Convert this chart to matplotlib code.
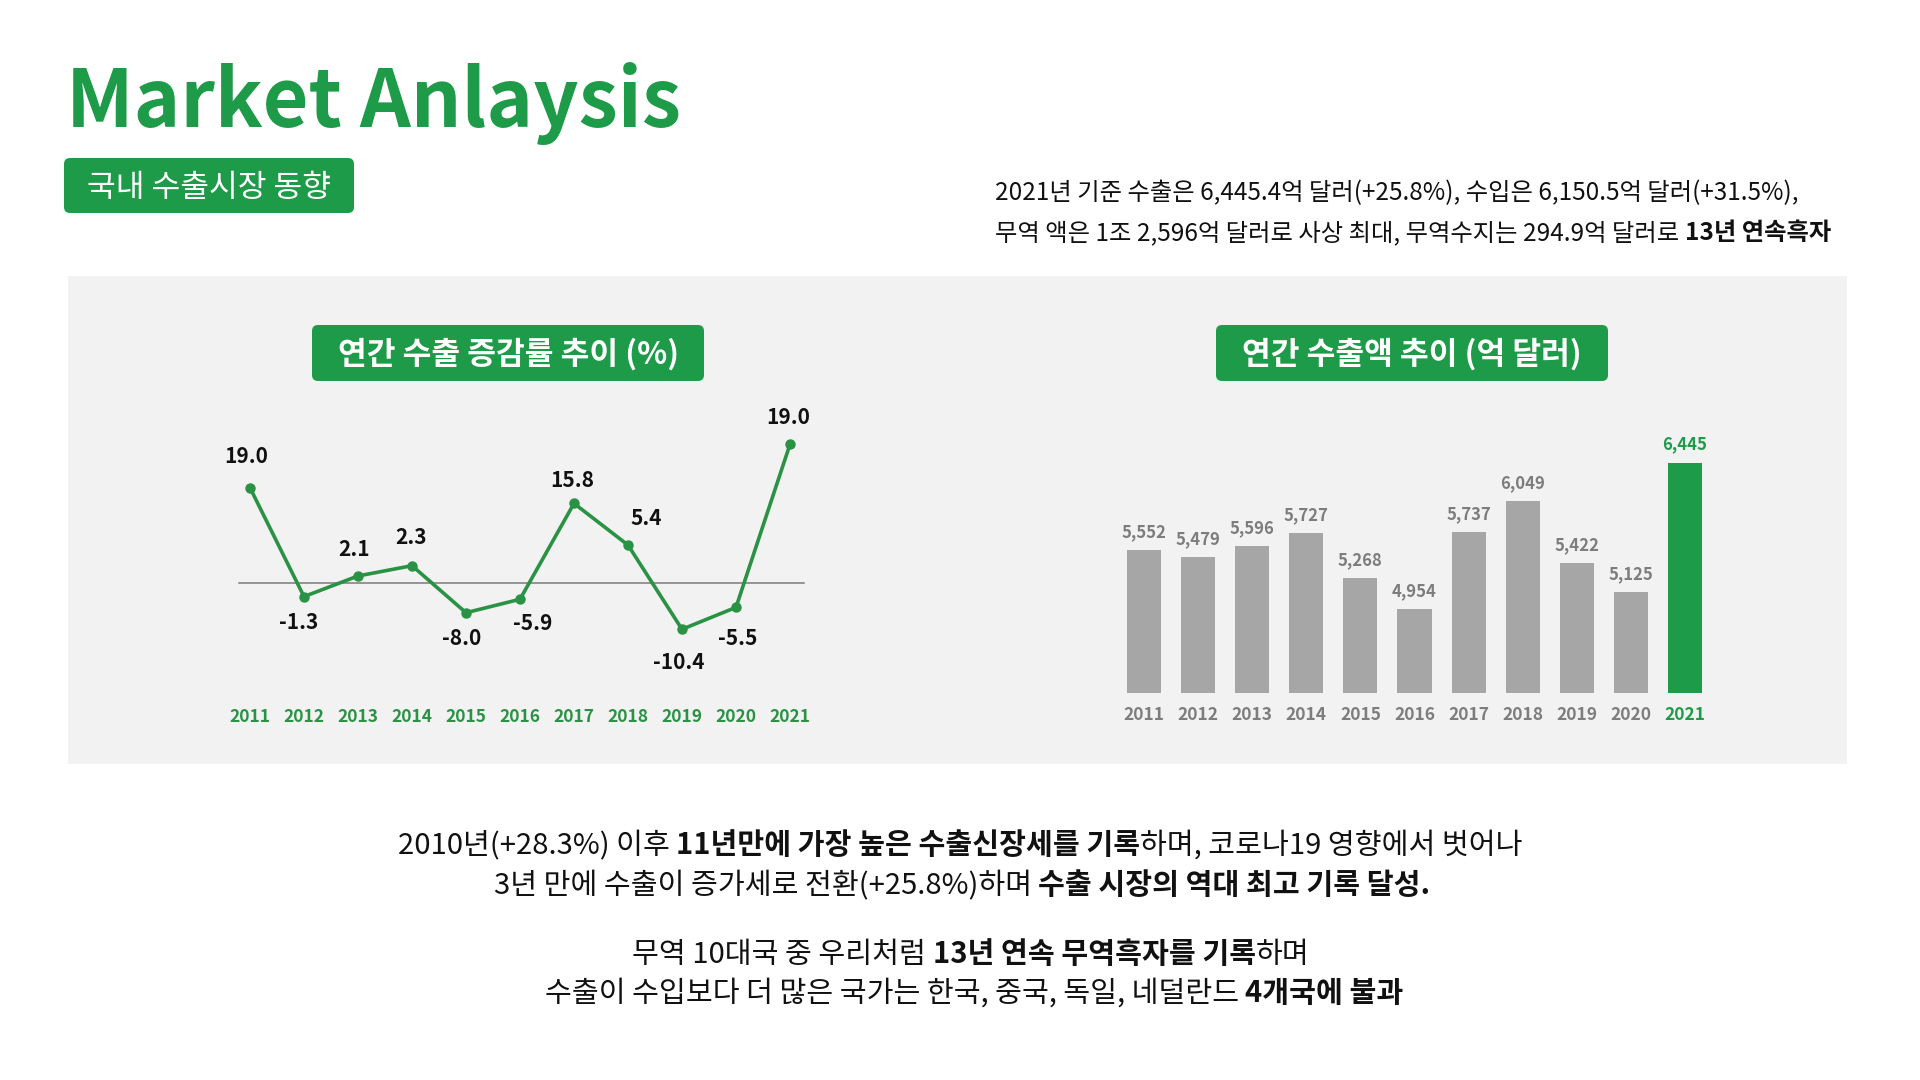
import matplotlib
matplotlib.use('Agg')
import matplotlib.pyplot as plt
from matplotlib.patches import FancyBboxPatch, Rectangle

plt.rcParams['font.family'] = ['Noto Sans CJK KR', 'DejaVu Sans']

# ---------------- data ----------------
years = ['2011', '2012', '2013', '2014', '2015', '2016', '2017', '2018', '2019', '2020', '2021']
# printed labels of the growth-rate line chart (%)
growth_labels = ['19.0', '-1.3', '2.1', '2.3', '-8.0', '-5.9', '15.8', '5.4', '-10.4', '-5.5', '19.0']
# heights of the points as drawn in the picture (%)
growth_drawn = [21.2, -3.1, 1.5, 3.8, -6.7, -3.7, 17.7, 8.4, -10.4, -5.5, 30.9]
# annual exports (100 million USD)
export_values = [5552, 5479, 5596, 5727, 5268, 4954, 5737, 6049, 5422, 5125, 6445]

title = 'Market Anlaysis'
subtitle = '국내 수출시장 동향'
left_title = '연간 수출 증감률 추이 (%)'
right_title = '연간 수출액 추이 (억 달러)'
summary_lines = [
    [('2021년 기준 수출은 6,445.4억 달러(+25.8%), 수입은 6,150.5억 달러(+31.5%),', False)],
    [('무역 액은 1조 2,596억 달러로 사상 최대, 무역수지는 294.9억 달러로 ', False), ('13년 연속흑자', True)],
]
bottom_lines = [
    [('2010년(+28.3%) 이후 ', False), ('11년만에 가장 높은 수출신장세를 기록', True), ('하며, 코로나19 영향에서 벗어나', False)],
    [('3년 만에 수출이 증가세로 전환(+25.8%)하며 ', False), ('수출 시장의 역대 최고 기록 달성.', True)],
    [('무역 10대국 중 우리처럼 ', False), ('13년 연속 무역흑자를 기록', True), ('하며', False)],
    [('수출이 수입보다 더 많은 국가는 한국, 중국, 독일, 네덜란드 ', False), ('4개국에 불과', True)],
]

# ---------------- style ----------------
W, H = 1920, 1080
GREEN = '#1e9b48'
LINE_GREEN = '#2a9244'
BAR_GRAY = '#a6a6a6'
TXT_GRAY = '#7d7d7d'
PANEL = '#f2f2f2'
BLACK = '#111111'

fig = plt.figure(figsize=(W / 100, H / 100), dpi=100)
fig.patch.set_facecolor('white')

# background axis in pixel coordinates
bg = fig.add_axes([0, 0, 1, 1], zorder=0)
bg.set_xlim(0, W)
bg.set_ylim(H, 0)
bg.axis('off')

renderer = fig.canvas.get_renderer()


def measure(s, bold, size):
    kw = dict(fontsize=size, fontweight='bold' if bold else 'normal')
    t1 = bg.text(0, 0, '|' + s + '|', **kw)
    t2 = bg.text(0, 0, '||', **kw)
    w = t1.get_window_extent(renderer).width - t2.get_window_extent(renderer).width
    t1.remove()
    t2.remove()
    return w


def rich_line(runs, x, baseline, size, align='center', color=BLACK):
    widths = [measure(s, b, size) for s, b in runs]
    total = sum(widths)
    x0 = x - total / 2 if align == 'center' else x
    for (s, b), w in zip(runs, widths):
        bg.text(x0, baseline, s, fontsize=size, fontweight='bold' if b else 'normal',
                color=color, ha='left', va='baseline')
        x0 += w


def green_box(x0, y0, x1, y1, r=6):
    bg.add_patch(FancyBboxPatch((x0 + r, y0 + r), (x1 - x0) - 2 * r, (y1 - y0) - 2 * r,
                                boxstyle=f'round,pad={r},rounding_size={r}',
                                facecolor=GREEN, edgecolor='none', zorder=2))


# title
bg.text(66, 127, title, fontsize=57, fontweight='bold', color=GREEN, ha='left', va='baseline')

# subtitle box
green_box(64, 158, 354, 213)
bg.text(209, 197, subtitle, fontsize=22.5, color='white', ha='center', va='baseline', zorder=3)

# summary at top right
rich_line(summary_lines[0], 995, 200, 17.5, align='left')
rich_line(summary_lines[1], 995, 240, 17.5, align='left')

# gray panel
bg.add_patch(Rectangle((68, 276), 1847 - 68, 764 - 276, facecolor=PANEL, edgecolor='none', zorder=1))

# chart title boxes
green_box(312, 325, 704, 381)
bg.text(508, 364, left_title, fontsize=22.5, fontweight='bold', color='white', ha='center', va='baseline', zorder=3)
green_box(1216, 325, 1608, 381)
bg.text(1412, 364, right_title, fontsize=22.5, fontweight='bold', color='white', ha='center', va='baseline', zorder=3)

# bottom text
for runs, base, cx in zip(bottom_lines, [854, 894, 963, 1002], [960, 962, 971, 974]):
    rich_line(runs, cx, base, 21)

# ---------------- line chart ----------------
PX = 100 / 72  # pixels per point
lx0, lx1, ly0, ly1 = 220, 820, 400, 700
axl = fig.add_axes([lx0 / W, 1 - ly1 / H, (lx1 - lx0) / W, (ly1 - ly0) / H], zorder=5)
axl.patch.set_alpha(0)
axl.axis('off')
step_l = 54.0
axl.set_xlim(-(250 - lx0) / step_l, -(250 - lx0) / step_l + (lx1 - lx0) / step_l)
ppu = 4.48
axl.set_ylim(-(ly1 - 582.7) / ppu, (582.7 - ly0) / ppu)
xs = list(range(len(years)))
axl.plot([-0.2, 10.25], [0, 0], color='#7a7a7a', lw=1.1, zorder=1)
axl.plot(xs, growth_drawn, color=LINE_GREEN, lw=2.6, marker='o', markersize=6.5,
         markerfacecolor=LINE_GREEN, markeredgecolor=LINE_GREEN, zorder=3)
lab_dx = [-4, -5, -4, -1, -4, 13, -2, 18, -3, 2, -2]
lab_dy = [-31, 26, -26, -28, 26, 24, -23, -27, 33, 31, -27]
for i, (lab, v) in enumerate(zip(growth_labels, growth_drawn)):
    axl.annotate(lab, xy=(i, v), xytext=(lab_dx[i] / PX, -lab_dy[i] / PX), textcoords='offset points',
                 ha='center', va='center', fontsize=15, fontweight='bold', color=BLACK)
    axl.annotate(years[i], xy=(i, 0), xycoords=('data', 'axes fraction'),
                 xytext=(0, -16.7 / PX), textcoords='offset points',
                 ha='center', va='center', fontsize=12.5, fontweight='bold', color=LINE_GREEN)

# ---------------- bar chart ----------------
bx0, bx1, by0, by1 = 1100, 1730, 400, 693.3
axb = fig.add_axes([bx0 / W, 1 - by1 / H, (bx1 - bx0) / W, (by1 - by0) / H], zorder=5)
axb.patch.set_alpha(0)
axb.axis('off')
step_b = 54.1
axb.set_xlim(-(1144 - bx0) / step_b, -(1144 - bx0) / step_b + (bx1 - bx0) / step_b)
base_val, ppu_b = 4095, 0.0982
axb.set_ylim(base_val, base_val + (by1 - by0) / ppu_b)
colors = [BAR_GRAY] * (len(years) - 1) + [GREEN]
tcolors = [TXT_GRAY] * (len(years) - 1) + [GREEN]
axb.bar(xs, export_values, width=0.63, color=colors, zorder=2)
for i, v in enumerate(export_values):
    axb.annotate(f'{v:,}', xy=(i, v), xytext=(0, 18 / PX), textcoords='offset points',
                 ha='center', va='center', fontsize=12, fontweight='bold', color=tcolors[i])
    axb.annotate(years[i], xy=(i, 0), xycoords=('data', 'axes fraction'),
                 xytext=(0, -21.7 / PX), textcoords='offset points',
                 ha='center', va='center', fontsize=12.5, fontweight='bold', color=tcolors[i])

fig.savefig('out.png', dpi=100, facecolor='white')
